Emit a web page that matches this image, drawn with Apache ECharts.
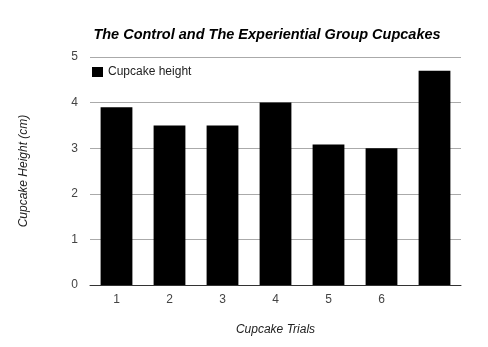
<!DOCTYPE html>
<html><head><meta charset="utf-8">
<script src="https://cdn.jsdelivr.net/npm/echarts@6/dist/echarts.min.js"></script>
<style>html,body{margin:0;padding:0;background:#fff}#c{width:488px;height:347px}</style>
</head><body><div id="c"></div>
<script>
const categories = ['1','2','3','4','5','6',''];
const cupcakeHeight = [3.9, 3.5, 3.5, 4.0, 3.08, 3.0, 4.7];
const yTicks = [0,1,2,3,4,5];
const seriesName = 'Cupcake height';

const chart = echarts.init(document.getElementById('c'), null, {renderer:'canvas'});
const font = 'Arial, "Liberation Sans", sans-serif';
chart.setOption({
  animation:false,
  textStyle:{fontFamily:font},
  title:{text:'The Control and The Experiential Group Cupcakes', left:262, top:22, textAlign:'center',
    textStyle:{fontSize:14.5, fontWeight:'bold', fontStyle:'italic', color:'#000', fontFamily:font}},
  legend:{data:[seriesName], left:87, top:61, itemWidth:11, itemHeight:10, itemGap:6,
    textStyle:{fontSize:12, color:'#222', fontFamily:font}, icon:'rect'},
  grid:{left:90, right:27, top:57, bottom:62},
  xAxis:{type:'category', data:categories, name:'Cupcake Trials', nameLocation:'middle', nameGap:39,
    nameTextStyle:{fontSize:12, fontStyle:'italic', color:'#222', fontFamily:font},
    axisLine:{lineStyle:{color:'#333'}}, axisTick:{show:false},
    axisLabel:{fontSize:12, color:'#444', margin:9}},
  yAxis:{type:'value', min:0, max:5, interval:1, name:'Cupcake Height (cm)', nameLocation:'middle', nameGap:60,
    nameTextStyle:{fontSize:12, fontStyle:'italic', color:'#222', fontFamily:font},
    axisLine:{show:false}, axisTick:{show:false},
    axisLabel:{fontSize:12, color:'#444', margin:12, formatter:(v)=>yTicks.includes(v)?String(v):''},
    splitLine:{lineStyle:{color:'#aaa'}}},
  series:[{name:seriesName, type:'bar', data:cupcakeHeight, barWidth:'60%', itemStyle:{color:'#000'}}]
});
</script></body></html>
